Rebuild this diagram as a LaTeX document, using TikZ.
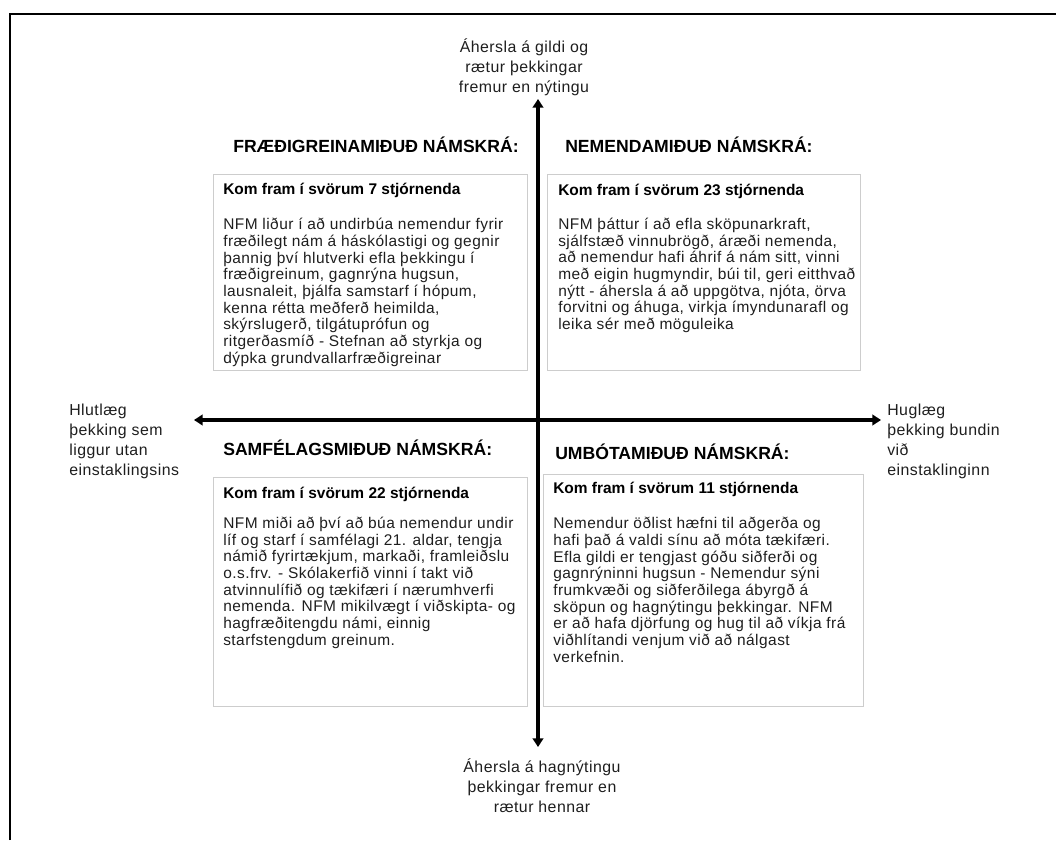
\documentclass[tikz,border=0pt]{standalone}
\usepackage{fontspec}
\setmainfont{Liberation Sans}
\newfontfamily\quadfont[LetterSpace=3]{Liberation Sans}
\usetikzlibrary{arrows.meta, positioning, calc}
\definecolor{boxgray}{RGB}{205,205,205}
\definecolor{textgray}{RGB}{30,30,30}

\begin{document}
\begin{tikzpicture}[x=0.75pt, y=0.75pt,
    axis/.style={line width=2.4pt, {Triangle[length=6.5pt,width=8pt]}-{Triangle[length=6.5pt,width=8pt]}},
    quadbox/.style={draw=boxgray, line width=0.6pt, anchor=north west, inner sep=0pt},
    heading/.style={anchor=west, inner sep=0pt, font=\fontsize{13.2}{15}\selectfont\bfseries},
    boxtext/.style={anchor=north west, inner sep=0pt, align=left, text=textgray, font=\quadfont\fontsize{11.6}{12.5}\selectfont},
    axislabel/.style={inner sep=0pt, text=textgray, font=\quadfont\fontsize{11.9}{15}\selectfont}]

    \useasboundingbox (0,0) rectangle (1056,840);
    \draw[line width=1.5pt] (10,0) -- (10,826) -- (1056,826);

    % axes
    \coordinate (top) at (538,741);
    \coordinate (bottom) at (538,93);
    \coordinate (left) at (194,420);
    \coordinate (right) at (881,420);
    \draw[axis] (bottom) -- (top);
    \draw[axis] (left) -- (right);

    \node[axislabel, align=center] (toplab) at (524,773) {Áhersla á gildi og\\rætur þekkingar\\fremur en nýtingu};
    \node[axislabel, align=center] (botlab) at (542,54) {Áhersla á hagnýtingu\\þekkingar fremur en\\rætur hennar};
    \node[axislabel, align=left, anchor=west] (leftlab) at (69,399) {Hlutlæg\\þekking sem\\liggur utan\\einstaklingsins};
    \node[axislabel, align=left, anchor=west] (rightlab) at (887,399) {Huglæg\\þekking bundin\\við\\einstaklinginn};

    % quadrants
    \node[heading] (head1) at (233,695) {FRÆÐIGREINAMIÐUÐ NÁMSKRÁ:};
    \node[heading] (head2) at (565,695) {NEMENDAMIÐUÐ NÁMSKRÁ:};
    \node[heading] (head3) at (223,392) {SAMFÉLAGSMIÐUÐ NÁMSKRÁ:};
    \node[heading] (head4) at (555,388) {UMBÓTAMIÐUÐ NÁMSKRÁ:};

    \node[quadbox, minimum width=235.5pt, minimum height=147pt] (box1) at (213,666) {};
    \node[quadbox, minimum width=234.75pt, minimum height=147pt] (box2) at (547,666) {};
    \node[quadbox, minimum width=235.5pt, minimum height=171.75pt] (box3) at (213,363) {};
    \node[quadbox, minimum width=240pt, minimum height=174pt] (box4) at (543,366) {};

    \node[boxtext] (text1) at ($(box1.north west)+(10,-9)$) {{\rmfamily\bfseries\color{black}Kom fram í svörum 7 stjórnenda}\\[14pt]
        NFM liður í að undirbúa nemendur fyrir\\
        fræðilegt nám á háskólastigi og gegnir\\
        þannig því hlutverki efla þekkingu í\\
        fræðigreinum, gagnrýna hugsun,\\
        lausnaleit, þjálfa samstarf í hópum,\\
        kenna rétta meðferð heimilda,\\
        skýrslugerð, tilgátuprófun og\\
        ritgerðasmíð - Stefnan að styrkja og\\
        dýpka grundvallarfræðigreinar};
    \node[boxtext] (text2) at ($(box2.north west)+(11,-10)$) {{\rmfamily\bfseries\color{black}Kom fram í svörum 23 stjórnenda}\\[13pt]
        NFM þáttur í að efla sköpunarkraft,\\
        sjálfstæð vinnubrögð, áræði nemenda,\\
        að nemendur hafi áhrif á nám sitt, vinni\\
        með eigin hugmyndir, búi til, geri eitthvað\\
        nýtt - áhersla á að uppgötva, njóta, örva\\
        forvitni og áhuga, virkja ímyndunarafl og\\
        leika sér með möguleika};
    \node[boxtext] (text3) at ($(box3.north west)+(10,-10)$) {{\rmfamily\bfseries\color{black}Kom fram í svörum 22 stjórnenda}\\[10pt]
        NFM miði að því að búa nemendur undir\\
        líf og starf í samfélagi 21. aldar, tengja\\
        námið fyrirtækjum, markaði, framleiðslu\\
        o.s.frv. - Skólakerfið vinni í takt við\\
        atvinnulífið og tækifæri í nærumhverfi\\
        nemenda. NFM mikilvægt í viðskipta- og\\
        hagfræðitengdu námi, einnig\\
        starfstengdum greinum.};
    \node[boxtext] (text4) at ($(box4.north west)+(10,-8)$) {{\rmfamily\bfseries\color{black}Kom fram í svörum 11 stjórnenda}\\[14pt]
        Nemendur öðlist hæfni til aðgerða og\\
        hafi það á valdi sínu að móta tækifæri.\\
        Efla gildi er tengjast góðu siðferði og\\
        gagnrýninni hugsun - Nemendur sýni\\
        frumkvæði og siðferðilega ábyrgð á\\
        sköpun og hagnýtingu þekkingar. NFM\\
        er að hafa djörfung og hug til að víkja frá\\
        viðhlítandi venjum við að nálgast\\
        verkefnin.};
\end{tikzpicture}
\end{document}
